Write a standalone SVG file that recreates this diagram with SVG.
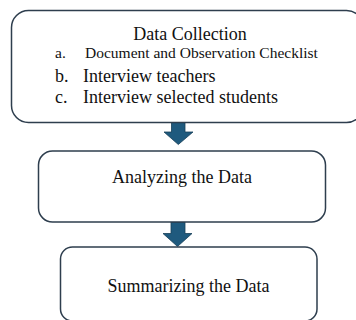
<svg xmlns="http://www.w3.org/2000/svg" width="356" height="320" viewBox="0 0 356 320">
  <style>
    .box { fill: #ffffff; stroke: #2e3e4e; stroke-width: 1.5; }
    .t { font-family: "Liberation Serif", "Times New Roman", serif; fill: #111111; }
    .arrow { fill: #1f5a7e; stroke: #173f58; stroke-width: 0.8; }
  </style>
  <rect width="356" height="320" fill="#ffffff"/>
  <g id="connectors">
    <path class="arrow" d="M171.5,122 H185 V132 H193 L178.3,144.5 L164,132 H171.5 Z"/>
    <path class="arrow" d="M171,222 H185 V233.5 H192 L177.5,246.5 L163,233.5 H171 Z"/>
  </g>
  <g id="node-data-collection">
    <rect class="box" x="11.5" y="10.5" width="352" height="112" rx="17"/>
    <text class="t" x="190" y="40" font-size="18" text-anchor="middle">Data Collection</text>
    <text class="t" x="55" y="58" font-size="15.5">a.</text>
    <text class="t" x="85" y="58" font-size="15.5">Document and Observation Checklist</text>
    <text class="t" x="55" y="82" font-size="18">b.</text>
    <text class="t" x="83" y="82" font-size="18">Interview teachers</text>
    <text class="t" x="55" y="103" font-size="18">c.</text>
    <text class="t" x="83" y="103" font-size="18">Interview selected students</text>
  </g>
  <g id="node-analyzing">
    <rect class="box" x="38.5" y="151" width="287" height="71" rx="14"/>
    <text class="t" x="182" y="183" font-size="18" text-anchor="middle">Analyzing the Data</text>
  </g>
  <g id="node-summarizing">
    <rect class="box" x="60.5" y="247" width="256.5" height="74" rx="12"/>
    <text class="t" x="188.5" y="292" font-size="18" text-anchor="middle">Summarizing the Data</text>
  </g>
</svg>
